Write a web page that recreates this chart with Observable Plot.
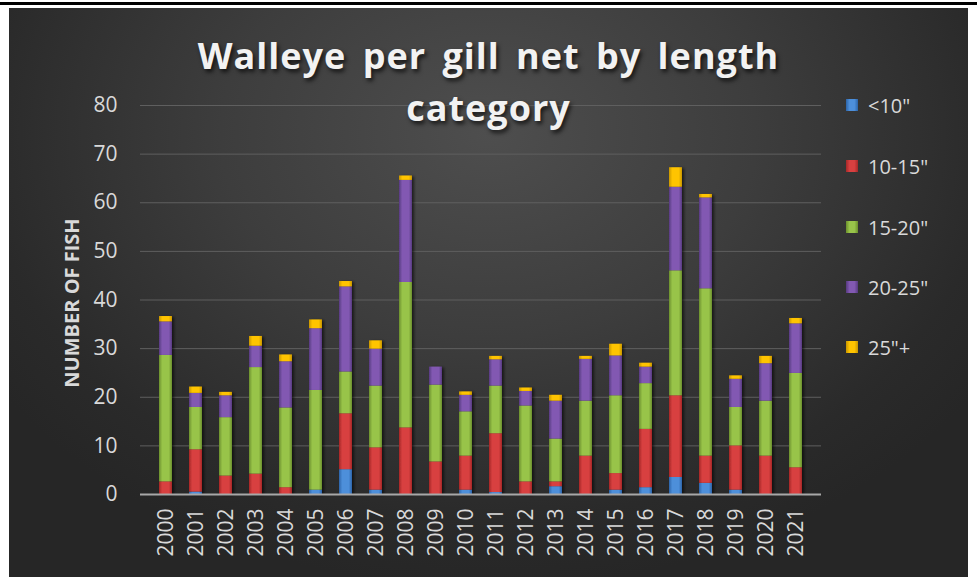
<!DOCTYPE html>
<html><head><meta charset="utf-8">
<script src="https://cdn.jsdelivr.net/npm/d3@7"></script>
<script src="https://cdn.jsdelivr.net/npm/@observablehq/plot@0.6"></script>
<style>
html,body{margin:0;padding:0;background:#fff;}
#page{position:relative;width:977px;height:577px;overflow:hidden;font-family:"Open Sans",sans-serif;}
#topline{position:absolute;left:0;top:2px;width:977px;height:3px;background:#000;}
#panel{position:absolute;left:9px;top:8px;width:959px;height:569px;
  background:radial-gradient(ellipse 62% 80% at 50% 22%, #4e4e4e 0%, #3d3d3d 45%, #2a2a2a 85%, #262626 100%);}
#chart{position:absolute;left:0;top:0;}
#title{position:absolute;left:0;width:977px;top:30px;text-align:center;color:#f2f2f2;font-weight:700;
  font-size:36px;line-height:52px;letter-spacing:1px;word-spacing:6px;text-shadow:2px 3px 4px rgba(0,0,0,0.7);}
#ytitle{position:absolute;left:71px;top:303px;transform:translate(-50%,-50%) rotate(-90deg);white-space:nowrap;
  color:#d9d9d9;font-weight:700;font-size:20px;}
.leg{position:absolute;left:846px;height:24px;display:flex;align-items:center;color:#d9d9d9;font-size:20px;white-space:nowrap;}
.leg span.sw{display:inline-block;width:12px;height:12px;margin-right:10px;}
</style></head>
<body>
<div id="page">
  <div id="topline"></div>
  <div id="panel"></div>
  <div id="chart"></div>
  <div id="title">Walleye per gill net by length<br>category</div>
  <div id="ytitle">NUMBER OF FISH</div>
  <div id="legend"></div>
</div>
<script>
const years = ["2000","2001","2002","2003","2004","2005","2006","2007","2008","2009","2010","2011","2012","2013","2014","2015","2016","2017","2018","2019","2020","2021"];
const under10  = [0,   0.5, 0,   0,   0,   0.9, 5.1, 0.9, 0,   0,   0.9, 0.4, 0,   1.6, 0,   0.9, 1.4, 3.5, 2.3, 0.9, 0,   0];
const len10to15= [2.6, 8.7, 3.8, 4.2, 1.4, 0,   11.5,8.7, 13.7,6.7, 7.0, 12.1,2.6, 1.0, 7.9, 3.4, 12.0,16.8,5.6, 9.1, 7.9, 5.5];
const len15to20= [26.0,8.7, 12.0,21.9,16.4,20.5,8.6, 12.7,29.9,15.8,9.1, 9.8, 15.6,8.8, 11.3,16.0,9.4, 25.7,34.4,7.9, 11.3,19.4];
const len20to25= [6.9, 2.9, 4.5, 4.4, 9.5, 12.7,17.5,7.6, 21.0,3.7, 3.4, 5.4, 3.0, 7.8, 8.6, 8.2, 3.4, 17.2,18.7,5.8, 7.7, 10.2];
const len25plus= [1.1, 1.3, 0.7, 2.0, 1.4, 1.8, 1.1, 1.7, 0.9, 0,   0.7, 0.7, 0.7, 1.2, 0.6, 2.4, 0.8, 4.0, 0.7, 0.7, 1.5, 1.1];
const seriesNames = ['<10"', '10-15"', '15-20"', '20-25"', '25"+'];
const yTicks = [0,10,20,30,40,50,60,70,80];

const seriesValues = [under10, len10to15, len15to20, len20to25, len25plus];
const rows = [];
seriesNames.forEach((s, i) => years.forEach((y, j) => rows.push({year: y, series: s, value: seriesValues[i][j]})));

// gradient colours: [edge, centre]
const grad = [["#2c64a8","#4d8fda"],["#a52828","#d84040"],["#6b8f2c","#98c44a"],["#573a80","#8259b2"],["#c89600","#ffc400"]];

const svg = Plot.plot({
  width: 977, height: 577,
  marginLeft: 140, marginRight: 156, marginTop: 105, marginBottom: 83,
  style: {background: "transparent", color: "#d9d9d9", fontFamily: "Open Sans", fontSize: "21px"},
  x: {domain: years, padding: 0.55, label: null},
  y: {domain: [0, 80], label: null},
  color: {domain: seriesNames, range: seriesNames.map((_, i) => `url(#g${i})`)},
  marks: [
    Plot.gridY(yTicks, {stroke: "#5f5f5f", strokeOpacity: 1, strokeWidth: 1}),
    Plot.axisY(yTicks, {tickSize: 0, tickPadding: 23, label: null, fill: "#d9d9d9"}),
    Plot.axisX({tickSize: 0, tickRotate: -90, tickPadding: 14, label: null, fill: "#d9d9d9"}),
    Plot.barY(rows, {x: "year", y: "value", fill: "series", z: "series"}),
    Plot.ruleY([0], {stroke: "#a8a8a8", strokeWidth: 2})
  ]
});
const s = d3.select(svg);
const defs = s.insert("defs", ":first-child");
grad.forEach((g, i) => {
  const lg = defs.append("linearGradient").attr("id", `g${i}`).attr("x1", 0).attr("x2", 1).attr("y1", 0).attr("y2", 0);
  lg.append("stop").attr("offset", "0%").attr("stop-color", g[0]);
  lg.append("stop").attr("offset", "25%").attr("stop-color", g[1]);
  lg.append("stop").attr("offset", "75%").attr("stop-color", g[1]);
  lg.append("stop").attr("offset", "100%").attr("stop-color", g[0]);
});
const f = defs.append("filter").attr("id", "shadow").attr("x", "-50%").attr("y", "-10%").attr("width", "200%").attr("height", "120%");
f.append("feDropShadow").attr("dx", 2).attr("dy", 1).attr("stdDeviation", 1.5).attr("flood-color", "#000").attr("flood-opacity", 0.6);
s.selectAll("g[aria-label=bar]").attr("filter", "url(#shadow)");
document.getElementById("chart").appendChild(svg);

const legend = document.getElementById("legend");
const legY = [105, 166, 227, 287, 347];
seriesNames.forEach((n, i) => {
  const d = document.createElement("div");
  d.className = "leg";
  d.style.top = (legY[i] - 12) + "px";
  d.innerHTML = `<span class="sw" style="background:linear-gradient(to right, ${grad[i][0]}, ${grad[i][1]} 30%, ${grad[i][1]} 70%, ${grad[i][0]})"></span>`;
  d.appendChild(document.createTextNode(n));
  legend.appendChild(d);
});
</script>
</body></html>
